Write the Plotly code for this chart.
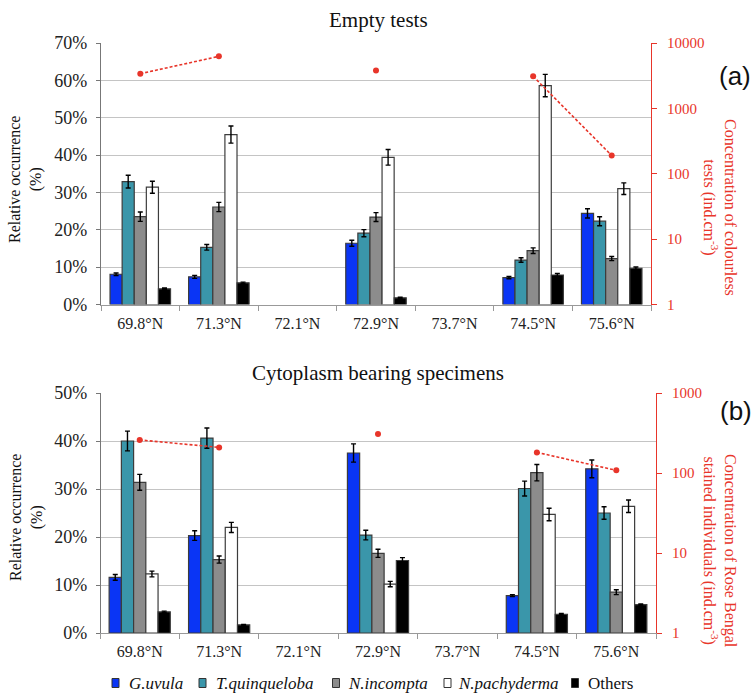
import plotly.graph_objects as go

W, H = 753, 696

stations = ["69.8°N", "71.3°N", "72.1°N", "72.9°N", "73.7°N", "74.5°N", "75.6°N"]
species = ["<i>G.uvula</i>", "<i>T.quinqueloba</i>", "<i>N.incompta</i>", "<i>N.pachyderma</i>", "Others"]
colors = ["#0a35f5", "#3a96aa", "#8c8c8c", "#ffffff", "#000000"]

# (a) Empty tests: relative occurrence (%)
empty_vals = [
    [8.1, 7.4, None, 16.4, None, 7.2, 24.4],
    [32.9, 15.3, None, 19.1, None, 11.9, 22.3],
    [23.5, 26.1, None, 23.4, None, 14.4, 12.3],
    [31.4, 45.5, None, 39.4, None, 58.6, 31.0],
    [4.2, 5.8, None, 1.8, None, 7.9, 9.7],
]
empty_err = [
    [0.35, 0.4, None, 0.8, None, 0.3, 1.25],
    [1.7, 0.75, None, 0.95, None, 0.6, 1.2],
    [1.25, 1.25, None, 1.2, None, 0.75, 0.55],
    [1.6, 2.3, None, 2.1, None, 3.0, 1.55],
    [0.2, 0.2, None, 0.15, None, 0.4, 0.35],
]
empty_conc = [3390, 6250, None, 3800, None, 3090, 190]

# (b) Cytoplasm bearing specimens: relative occurrence (%)
cyto_vals = [
    [11.6, 20.3, None, 37.5, None, 7.8, 34.2],
    [40.0, 40.6, None, 20.4, None, 30.1, 25.0],
    [31.4, 15.3, None, 16.6, None, 33.4, 8.5],
    [12.3, 22.0, None, 10.2, None, 24.7, 26.4],
    [4.4, 1.7, None, 15.1, None, 3.9, 5.9],
]
cyto_err = [
    [0.6, 1.0, None, 1.9, None, 0.2, 1.85],
    [2.05, 2.1, None, 1.0, None, 1.55, 1.3],
    [1.65, 0.75, None, 0.85, None, 1.7, 0.5],
    [0.6, 1.05, None, 0.55, None, 1.3, 1.3],
    [0.15, 0.1, None, 0.6, None, 0.15, 0.15],
]
cyto_conc = [259, 209, None, 308, None, 181, 108]

left_top_ticks = [0, 10, 20, 30, 40, 50, 60, 70]
left_bot_ticks = [0, 10, 20, 30, 40, 50]
right_top_ticks = [1, 10, 100, 1000, 10000]
right_bot_ticks = [1, 10, 100, 1000]

SERIF = "Liberation Serif, Times New Roman, serif"
SANS = "Liberation Sans, Arial, sans-serif"
RED = "#e8352a"

fig = go.Figure()

for i in range(5):
    fig.add_trace(go.Bar(
        x=stations, y=empty_vals[i], name=species[i],
        marker=dict(color=colors[i], line=dict(color="#3c3c3c", width=1.2)),
        error_y=dict(type="data", array=empty_err[i], color="black", thickness=1.4, width=2.5),
        xaxis="x", yaxis="y", showlegend=False,
    ))
fig.add_trace(go.Scatter(
    x=stations, y=empty_conc, mode="lines+markers",
    line=dict(color=RED, width=1.6, dash="3px,2px"),
    marker=dict(color=RED, size=6), connectgaps=False,
    xaxis="x", yaxis="y2", showlegend=False,
))

for i in range(5):
    fig.add_trace(go.Bar(
        x=stations, y=cyto_vals[i], name=species[i],
        marker=dict(color=colors[i], line=dict(color="#3c3c3c", width=1.2)),
        error_y=dict(type="data", array=cyto_err[i], color="black", thickness=1.4, width=2.5),
        xaxis="x2", yaxis="y3", showlegend=False,
    ))
fig.add_trace(go.Scatter(
    x=stations, y=cyto_conc, mode="lines+markers",
    line=dict(color=RED, width=1.6, dash="3px,2px"),
    marker=dict(color=RED, size=6), connectgaps=False,
    xaxis="x2", yaxis="y4", showlegend=False,
))

def px_x(v):
    return v / W

def px_y(v):
    return 1 - v / H

xcommon = dict(type="category", showline=True, linecolor="#999", linewidth=1.2,
               ticks="outside", tickson="boundaries", ticklen=5, tickcolor="#999",
               tickfont=dict(family=SERIF, size=16, color="#222"), showgrid=False,
               categoryorder="array", categoryarray=stations, fixedrange=True,
               ticklabelstandoff=4)
ycommon = dict(showline=True, linecolor="#777", linewidth=1.2, ticks="outside", ticklen=4,
               tickcolor="#777", gridcolor="#c4c4c4", gridwidth=1.3,
               tickfont=dict(family=SERIF, size=18, color="#222"), zeroline=False,
               ticklabelstandoff=5)
rcommon = dict(type="log", side="right", showline=True, linecolor=RED, linewidth=1.2,
               ticks="outside", ticklen=5, tickcolor=RED, showgrid=False,
               tickfont=dict(family=SERIF, size=15, color=RED), zeroline=False,
               ticklabelstandoff=7)

fig.update_layout(
    width=W, height=H, margin=dict(l=0, r=0, t=0, b=0, autoexpand=False),
    paper_bgcolor="white", plot_bgcolor="white",
    barmode="group", bargap=0.23, bargroupgap=0,
    xaxis=dict(domain=[px_x(101), px_x(651)], anchor="y", **xcommon),
    yaxis=dict(domain=[px_y(304.5), px_y(43)], range=[0, 70], tickvals=left_top_ticks,
               ticktext=[f"{t}%" for t in left_top_ticks], **ycommon),
    yaxis2=dict(overlaying="y", anchor="x", range=[0, 4], tickvals=right_top_ticks,
                ticktext=[str(t) for t in right_top_ticks], **rcommon),
    xaxis2=dict(domain=[px_x(100), px_x(656)], anchor="y3", **xcommon),
    yaxis3=dict(domain=[px_y(633), px_y(393)], range=[0, 50], tickvals=left_bot_ticks,
                ticktext=[f"{t}%" for t in left_bot_ticks], **ycommon),
    yaxis4=dict(overlaying="y3", anchor="x2", range=[0, 3], tickvals=right_bot_ticks,
                ticktext=[str(t) for t in right_bot_ticks], **rcommon),
    showlegend=False,
)

ann = [
    dict(text="Empty tests", x=px_x(378), y=px_y(20), font=dict(family=SERIF, size=21, color="#111")),
    dict(text="Cytoplasm bearing specimens", x=px_x(378), y=px_y(373), font=dict(family=SERIF, size=21, color="#111")),
    dict(text="Relative occurrence<br>(%)", x=px_x(26), y=px_y(180), textangle=-90,
         font=dict(family=SERIF, size=16, color="#111")),
    dict(text="Relative occurrence<br>(%)", x=px_x(26), y=px_y(518), textangle=-90,
         font=dict(family=SERIF, size=16, color="#111")),
    dict(text="Concentration of colourless<br>tests (ind.cm<sup>-3</sup>)", x=px_x(720), y=px_y(207),
         textangle=90, font=dict(family=SERIF, size=16, color=RED)),
    dict(text="Concentration of Rose Bengal<br>stained individuals (ind.cm<sup>-3</sup>)", x=px_x(720), y=px_y(551),
         textangle=90, font=dict(family=SERIF, size=16, color=RED)),
    dict(text="(a)", x=px_x(735), y=px_y(76), font=dict(family=SANS, size=26, color="#111")),
    dict(text="(b)", x=px_x(736), y=px_y(411), font=dict(family=SANS, size=26, color="#111")),
]
for a in ann:
    a.update(xanchor="center")

# compact legend: key squares (shapes) + labels (annotations)
legend_square_x = [115.5, 202.5, 336, 447.5, 575]
legend_text_x = [127, 214, 346, 456, 586]
legend_y = 683
shapes = []
for i in range(5):
    cx = legend_square_x[i]
    shapes.append(dict(type="rect", xref="paper", yref="paper",
                       x0=px_x(cx - 3.5), x1=px_x(cx + 3.5),
                       y0=px_y(legend_y + 4.5), y1=px_y(legend_y - 4.5),
                       fillcolor=colors[i], line=dict(color="#333", width=1)))
    ann.append(dict(text=species[i], x=px_x(legend_text_x[i]), y=px_y(legend_y), xanchor="left",
                    font=dict(family=SERIF, size=17, color="#111")))

for a in ann:
    a.update(xref="paper", yref="paper", showarrow=False, yanchor="middle")
fig.update_layout(annotations=ann, shapes=shapes)

fig.write_html("out.html")
